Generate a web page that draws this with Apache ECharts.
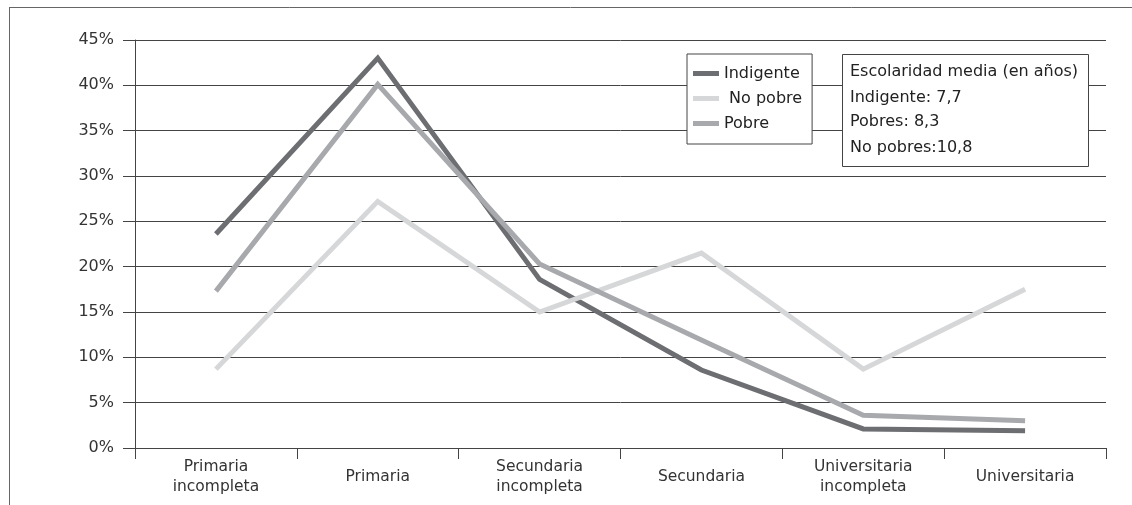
<!DOCTYPE html>
<html><head><meta charset="utf-8">
<script src="https://cdn.jsdelivr.net/npm/echarts@6/dist/echarts.min.js"></script>
<style>html,body{margin:0;padding:0;background:#fff}#c{width:1132px;height:505px}</style>
</head><body><div id="c"></div>
<script>
const categories = ["Primaria\nincompleta", "Primaria", "Secundaria\nincompleta", "Secundaria", "Universitaria\nincompleta", "Universitaria"];
const indigente = [23.6, 43.0, 18.6, 8.6, 2.1, 1.9];
const noPobre = [8.7, 27.2, 15.0, 21.5, 8.7, 17.5];
const pobre = [17.3, 40.1, 20.3, 11.9, 3.6, 3.0];
const yTicks = [0, 45, 5];
const infoLines = ["Escolaridad media (en años)", "Indigente: 7,7", "Pobres: 8,3", "No pobres:10,8"];

const FONT = "DejaVu Sans";
const chart = echarts.init(document.getElementById('c'), null, {renderer: 'canvas'});
const mk = (name, data, color) => ({
  name, type: 'line', data, symbol: 'none', smooth: false,
  lineStyle: {color, width: 5, cap: 'butt', join: 'miter'},
  itemStyle: {color}, animation: false
});
const infoY = [72, 98, 122, 148];
chart.setOption({
  animation: false,
  grid: {left: 135, top: 40, width: 971, height: 408, containLabel: false},
  xAxis: {
    type: 'category', data: categories, boundaryGap: true,
    axisLine: {show: true, lineStyle: {color: '#444', width: 1}},
    axisTick: {show: true, length: 11, lineStyle: {color: '#444'}},
    axisLabel: {color: '#333', fontFamily: FONT, fontSize: 15.5, lineHeight: 20, margin: 29, verticalAlign: 'middle', interval: 0}
  },
  yAxis: {
    type: 'value', min: yTicks[0], max: yTicks[1], interval: yTicks[2],
    axisLine: {show: true, lineStyle: {color: '#444', width: 1}},
    axisTick: {show: true, length: 12, lineStyle: {color: '#444'}},
    axisLabel: {formatter: '{value}%', color: '#333', fontFamily: FONT, fontSize: 16, margin: 21},
    splitLine: {show: true, lineStyle: {color: '#444', width: 1}}
  },
  legend: {
    orient: 'vertical', left: 687, top: 54, width: 110,
    data: ['Indigente', 'No pobre', 'Pobre'],
    formatter: n => n === 'No pobre' ? ' No pobre' : n,
    icon: 'rect', itemWidth: 26, itemHeight: 5, itemGap: 6,
    padding: [10, 10, 11, 6],
    backgroundColor: '#fff', borderColor: '#444', borderWidth: 1,
    textStyle: {color: '#222', fontFamily: FONT, fontSize: 16, lineHeight: 19}
  },
  graphic: [
    {type: 'line', shape: {x1: 9, y1: 7.5, x2: 1132, y2: 7.5}, style: {stroke: '#666', lineWidth: 1}},
    {type: 'line', shape: {x1: 9.5, y1: 7, x2: 9.5, y2: 505}, style: {stroke: '#666', lineWidth: 1}},
    {type: 'rect', shape: {x: 842.5, y: 54.5, width: 246, height: 112}, style: {fill: '#fff', stroke: '#444', lineWidth: 1}, z: 10},
    ...infoLines.map((t, i) => ({type: 'text', x: 850, y: infoY[i], z: 11,
      style: {text: t, fill: '#222', font: '16px "DejaVu Sans"', verticalAlign: 'middle'}}))
  ],
  series: [
    mk('Indigente', indigente, '#6d6e71'),
    mk('No pobre', noPobre, '#d6d7d8'),
    mk('Pobre', pobre, '#a7a9ac')
  ]
});
</script></body></html>
